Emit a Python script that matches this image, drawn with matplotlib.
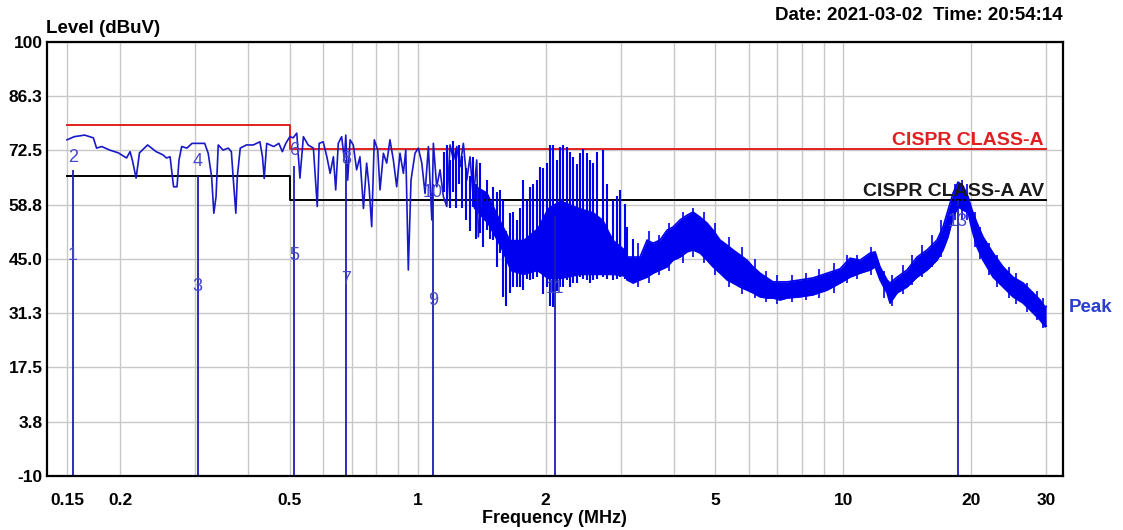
import matplotlib
matplotlib.use("Agg")
import matplotlib.pyplot as plt
from matplotlib.ticker import FixedLocator, NullFormatter

plt.rcParams['font.family'] = ['Liberation Sans', 'DejaVu Sans']

# Peak scan, low band (MHz / dBuV)
low_freq = [0.150, 0.156, 0.165, 0.173, 0.176, 0.181, 0.189, 0.198, 0.207, 0.211,
            0.214, 0.218, 0.222, 0.232, 0.243, 0.252, 0.257, 0.262, 0.267, 0.272,
            0.275, 0.279, 0.287, 0.295, 0.316, 0.322, 0.328, 0.332, 0.336, 0.340,
            0.349, 0.359, 0.365, 0.369, 0.374, 0.377, 0.383, 0.396, 0.411, 0.426,
            0.432, 0.436, 0.442, 0.459, 0.472, 0.481, 0.490, 0.501, 0.510, 0.520,
            0.529, 0.539, 0.553, 0.569, 0.581, 0.587, 0.600, 0.612, 0.623, 0.634,
            0.642, 0.651, 0.663, 0.673, 0.678, 0.685, 0.694, 0.706, 0.719, 0.732,
            0.746, 0.759, 0.769, 0.780, 0.791, 0.806, 0.816, 0.831, 0.846, 0.861,
            0.877, 0.893, 0.909, 0.926, 0.938, 0.951, 0.965, 0.986, 1.004, 1.023,
            1.041, 1.060, 1.080, 1.089, 1.109, 1.129, 1.150, 1.171, 1.192, 1.214,
            1.236, 1.258, 1.281, 1.305, 1.328, 1.352, 1.377, 1.389, 1.415]
low_level = [75.2, 76.0, 76.4, 75.7, 73.1, 73.5, 72.6, 71.9, 70.6, 72.2,
             69.7, 65.5, 71.9, 73.9, 72.2, 71.4, 70.6, 70.9, 63.3, 63.3,
             70.1, 73.5, 73.1, 74.3, 74.3, 71.8, 65.9, 56.6, 60.8, 73.9,
             72.6, 73.1, 72.2, 65.0, 56.6, 65.9, 73.1, 73.9, 73.9, 74.7,
             70.9, 65.4, 74.3, 73.5, 74.3, 72.2, 74.3, 76.0, 75.7, 76.9,
             65.5, 76.0, 73.9, 73.1, 58.3, 74.3, 74.7, 70.9, 66.7, 70.9,
             62.5, 74.3, 76.0, 70.1, 76.4, 65.0, 75.2, 73.9, 67.6, 70.9,
             57.8, 69.3, 63.3, 53.2, 75.2, 72.6, 62.5, 71.8, 69.3, 75.2,
             70.1, 63.3, 71.8, 66.7, 72.6, 42.2, 65.0, 71.8, 73.1, 69.3,
             61.6, 73.5, 54.9, 74.3, 63.3, 67.6, 60.8, 58.3, 73.9, 70.1,
             73.5, 68.4, 74.3, 65.0, 70.9, 60.0, 70.1, 50.6, 61.6]

# 1.15 - 3.2 MHz: dense spikes (top / bottom of each)
spike_freq = [1.153, 1.173, 1.192, 1.211, 1.231, 1.251, 1.272, 1.300, 1.328, 1.350,
              1.372, 1.402, 1.425, 1.456, 1.480, 1.504, 1.537, 1.562, 1.587, 1.614,
              1.649, 1.676, 1.713, 1.740, 1.769, 1.808, 1.837, 1.868, 1.908, 1.940,
              1.972, 2.015, 2.048, 2.081, 2.127, 2.161, 2.196, 2.245, 2.282, 2.319,
              2.370, 2.409, 2.448, 2.502, 2.543, 2.585, 2.640, 2.729, 2.787, 2.880,
              2.943, 2.991, 3.073, 3.106, 3.209]
spike_top = [72.0, 74.0, 70.0, 75.0, 73.0, 74.0, 71.0, 68.0, 66.0, 70.8,
             64.0, 69.3, 62.0, 65.0, 60.0, 63.2, 62.0, 62.5, 59.9, 52.0,
             56.7, 57.0, 54.9, 58.0, 65.0, 60.0, 63.2, 64.0, 65.0, 68.3,
             68.0, 69.3, 74.0, 73.9, 70.0, 73.4, 74.0, 73.4, 72.0, 70.8,
             69.0, 71.9, 73.0, 71.9, 70.0, 69.3, 72.0, 72.6, 64.0, 59.9,
             61.0, 62.5, 59.0, 53.1, 50.0]
spike_bot = [62.0, 60.0, 58.0, 62.0, 58.0, 64.0, 58.0, 55.0, 52.0, 58.2,
             50.0, 51.6, 48.0, 52.3, 50.0, 49.8, 43.0, 46.5, 35.4, 33.0,
             36.4, 38.0, 37.9, 38.0, 37.1, 40.0, 39.7, 40.0, 40.4, 41.4,
             36.0, 37.9, 33.0, 32.8, 37.0, 37.9, 38.0, 39.7, 38.0, 38.9,
             39.0, 40.4, 40.0, 39.7, 39.0, 39.7, 40.0, 40.4, 40.0, 39.7,
             40.0, 40.4, 40.0, 39.7, 41.0]
core_freq = [1.350, 1.456, 1.562, 1.649, 1.769, 1.908, 2.015, 2.161, 2.409, 2.585,
             2.729, 2.880, 3.106]
core_top = [64.0, 62.0, 55.0, 50.0, 50.0, 53.0, 58.0, 60.0, 58.0, 57.0, 55.0, 50.0, 47.0]
core_bot = [58.0, 54.0, 48.0, 42.0, 41.0, 42.0, 40.0, 40.0, 41.0, 41.0, 41.0, 41.0, 40.5]

# 3.1 - 30 MHz: noise band
band_freq = [3.106, 3.209, 3.333, 3.462, 3.576, 3.714, 3.857, 3.984, 4.138, 4.298,
             4.440, 4.611, 4.788, 4.947, 5.138, 5.336, 5.511, 5.724, 5.945, 6.142,
             6.380, 6.626, 6.845, 7.109, 7.383, 7.922, 8.496, 9.168, 9.839, 10.38,
             10.96, 11.57, 11.89, 12.21, 12.68, 12.89, 13.39, 14.13, 14.92, 15.75,
             16.62, 17.17, 17.64, 18.13, 18.63, 19.14, 19.67, 20.09, 20.64, 21.32,
             22.51, 23.76, 25.08, 26.49, 27.96, 29.04, 29.84, 30.0]
band_top = [45.5, 45.5, 45.5, 49.8, 49.0, 49.8, 52.3, 53.1, 54.9, 56.1,
            56.9, 55.6, 54.1, 52.3, 49.8, 48.5, 47.3, 46.0, 44.7, 43.0,
            41.4, 40.2, 39.2, 39.2, 39.2, 39.7, 40.2, 41.4, 42.5, 45.2,
            44.7, 46.5, 46.8, 43.0, 39.7, 38.9, 40.4, 42.2, 45.5, 47.3,
            49.8, 53.1, 57.4, 61.7, 64.5, 63.5, 60.7, 57.4, 54.1, 50.6,
            46.5, 43.0, 40.4, 38.9, 36.4, 34.6, 32.8, 33.0]
band_bot = [39.7, 38.9, 39.7, 40.4, 41.4, 42.2, 43.0, 44.7, 45.5, 46.8,
            47.3, 46.5, 44.7, 43.0, 41.4, 39.7, 38.9, 37.9, 37.1, 36.4,
            35.4, 35.1, 35.1, 34.6, 35.1, 35.4, 35.9, 37.1, 38.9, 40.4,
            41.4, 42.2, 43.0, 39.7, 36.4, 33.8, 36.4, 37.9, 40.4, 42.2,
            44.7, 47.3, 50.6, 55.6, 58.2, 57.4, 56.7, 52.3, 48.0, 44.7,
            40.4, 37.9, 35.4, 33.8, 31.3, 29.5, 27.8, 28.0]
# single spikes poking out of the band
edge_freq = [3.3, 3.5, 3.7, 3.9, 4.2, 4.45, 4.7, 5.0, 5.4, 5.8,
             6.2, 6.6, 7.0, 7.6, 8.2, 8.8, 9.5, 10.2, 10.8, 11.6,
             12.5, 13.0, 13.8, 14.5, 15.3, 16.2, 17.0, 18.3, 19.0, 19.5,
             20.4, 21.0, 22.0, 23.0, 24.5, 25.5, 27.0, 28.5, 29.5]
edge_top = [49.0, 52.0, 51.0, 54.0, 57.0, 58.0, 57.0, 54.0, 50.5, 48.0,
            45.0, 42.0, 41.0, 41.0, 41.5, 42.5, 44.0, 46.0, 46.0, 48.0,
            42.0, 41.0, 43.5, 46.0, 48.5, 51.0, 55.0, 64.0, 65.0, 64.0,
            57.0, 53.0, 49.0, 46.0, 43.0, 41.5, 39.0, 37.0, 35.0]
edge_bot = [38.0, 39.0, 41.0, 42.0, 44.0, 45.5, 44.0, 41.0, 38.0, 36.0,
            35.0, 34.0, 33.5, 34.0, 34.5, 35.0, 36.5, 39.0, 40.0, 41.0,
            35.0, 33.0, 36.0, 38.5, 40.5, 43.0, 45.5, 55.0, 55.0, 55.0,
            48.0, 45.0, 41.0, 38.0, 35.0, 33.5, 31.5, 29.5, 27.5]

# limit lines
limit_freq = [0.15, 0.5, 0.5, 30.0]
limit_qp = [79.0, 79.0, 73.0, 73.0]
limit_av = [66.0, 66.0, 60.0, 60.0]

# markers: frequency, top of line, label numbers and label levels
marker_freq = [0.155, 0.304, 0.512, 0.679, 1.087, 2.100, 18.63]
marker_top = [67.6, 66.0, 68.6, 70.0, 64.0, 56.0, 60.0]
marker_hi_text = ['2', '4', '6', '8', '10', '', '']
marker_hi_level = [70.8, 69.6, 72.6, 70.3, 61.9, 0, 0]
marker_lo_text = ['1', '3', '5', '7', '9', '11', '13']
marker_lo_level = [45.8, 37.9, 45.8, 39.7, 34.6, 37.6, 54.4]

y_ticks = [-10, 3.8, 17.5, 31.3, 45.0, 58.8, 72.5, 86.3, 100]
y_tick_labels = ['-10', '3.8', '17.5', '31.3', '45.0', '58.8', '72.5', '86.3', '100']
x_major = [0.15, 0.2, 0.5, 1, 2, 5, 10, 20, 30]
x_major_labels = ['0.15', '0.2', '0.5', '1', '2', '5', '10', '20', '30']
x_minor = [0.3, 0.4, 0.6, 0.7, 0.8, 0.9, 3, 4, 6, 7, 8, 9]

trace_color = '#0000f0'
low_color = '#1818c8'
marker_color = '#1c1cb4'
label_color = '#4848cc'

fig = plt.figure(figsize=(11.23, 5.30), dpi=100)
ax = fig.add_axes([0.0416, 0.1019, 0.9050, 0.8189])

ax.set_xscale('log')
ax.set_xlim(0.1344, 32.87)
ax.set_ylim(-10, 100)

ax.xaxis.set_major_locator(FixedLocator(x_major))
ax.xaxis.set_minor_locator(FixedLocator(x_minor))
ax.xaxis.set_minor_formatter(NullFormatter())
ax.set_xticklabels(x_major_labels)
ax.set_yticks(y_ticks)
ax.set_yticklabels(y_tick_labels)
ax.grid(True, which='both', color='#c8c8c8', linewidth=1.0)
ax.set_axisbelow(True)
ax.tick_params(which='both', length=0)
ax.tick_params(axis='x', pad=12, labelsize=12.5)
ax.tick_params(axis='y', pad=3, labelsize=12.5)
for lab in ax.get_xticklabels() + ax.get_yticklabels():
    lab.set_fontweight('bold')
for sp in ax.spines.values():
    sp.set_linewidth(1.6)

# limits
ax.plot(limit_freq, limit_qp, color='#e02020', linewidth=1.4)
ax.plot(limit_freq, limit_av, color='black', linewidth=1.4)

# markers (behind the trace)
ax.vlines(marker_freq, -10, marker_top, color=marker_color, linewidth=1.3)

# trace
ax.plot(low_freq, low_level, color=low_color, linewidth=1.2)
ax.fill_between(core_freq, core_bot, core_top, color=trace_color, linewidth=0)
ax.vlines(spike_freq, spike_bot, spike_top, color=trace_color, linewidth=1.5)
ax.fill_between(band_freq, band_bot, band_top, color=trace_color, linewidth=0)
ax.plot(band_freq, band_top, color=trace_color, linewidth=1.2)
ax.plot(band_freq, band_bot, color=trace_color, linewidth=1.2)
ax.vlines(edge_freq, edge_bot, edge_top, color=trace_color, linewidth=1.2)

for f, t, v in zip(marker_freq, marker_hi_text, marker_hi_level):
    if t:
        ax.text(f, v, t, color=label_color, fontsize=13, ha='center', va='center')
for f, t, v in zip(marker_freq, marker_lo_text, marker_lo_level):
    ax.text(f, v, t, color=label_color, fontsize=13, ha='center', va='center')

ax.text(29.6, 73.9, 'CISPR CLASS-A', color='#e02020', fontsize=14,
        fontweight='bold', ha='right', va='baseline')
ax.text(29.6, 61.0, 'CISPR CLASS-A AV', color='#1a1a1a', fontsize=14,
        fontweight='bold', ha='right', va='baseline')

fig.text(0.952, 0.42, 'Peak', color='#2a3fd0', fontsize=13.5, fontweight='bold',
         ha='left', va='center')
fig.text(0.041, 0.930, 'Level (dBuV)', fontsize=13.5, fontweight='bold',
         ha='left', va='bottom')
fig.text(0.9466, 0.955, 'Date: 2021-03-02  Time: 20:54:14', fontsize=13.5,
         fontweight='bold', ha='right', va='bottom')
fig.text(0.494, 0.005, 'Frequency (MHz)', fontsize=13, fontweight='bold',
         ha='center', va='bottom')

fig.savefig('out.png', dpi=100)
